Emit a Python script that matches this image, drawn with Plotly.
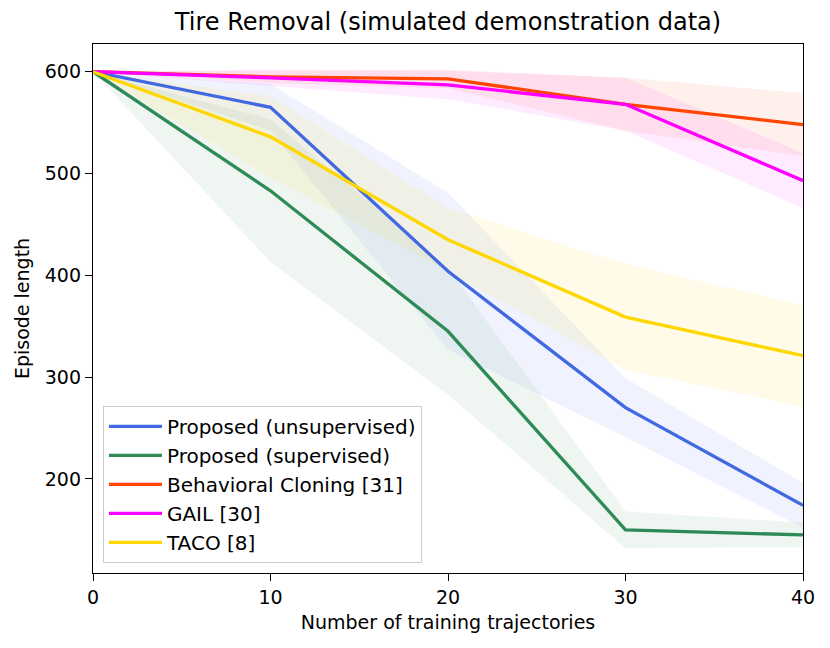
import plotly.graph_objects as go

x_vals = [0, 10, 20, 30, 40]

names = ["Proposed (unsupervised)", "Proposed (supervised)", "Behavioral Cloning [31]", "GAIL [30]", "TACO [8]"]
colors = ["#4169E1", "#2E8B57", "#FF4500", "#FF00FF", "#FFD700"]
fills = ["rgba(65,105,225,0.08)", "rgba(46,139,87,0.08)", "rgba(255,69,0,0.08)", "rgba(255,0,255,0.08)", "rgba(255,215,0,0.09)"]

unsup_mean = [600, 565, 404, 270, 174]
unsup_std = [0, 23, 77, 29, 22]
sup_mean = [600, 483, 345, 150, 145]
sup_std = [0, 70, 62, 18, 12]
bc_mean = [600, 595, 593, 568, 548]
bc_std = [0, 6, 9, 26, 31]
gail_mean = [600, 594, 587, 568, 493]
gail_std = [0, 8, 14, 26, 27]
taco_mean = [600, 536, 435, 359, 321]
taco_std = [0, 40, 31, 52, 50]

means = [unsup_mean, sup_mean, bc_mean, gail_mean, taco_mean]
stds = [unsup_std, sup_std, bc_std, gail_std, taco_std]

fig = go.Figure()
for m, s, fc in zip(means, stds, fills):
    upper = [a + b for a, b in zip(m, s)]
    lower = [a - b for a, b in zip(m, s)]
    fig.add_trace(go.Scatter(
        x=x_vals + x_vals[::-1], y=upper + lower[::-1],
        fill="toself", fillcolor=fc, line=dict(width=0),
        mode="lines", hoverinfo="skip", showlegend=False))

for m, n, c in zip(means, names, colors):
    fig.add_trace(go.Scatter(x=x_vals, y=m, mode="lines", name=n,
                             line=dict(color=c, width=3.3)))

font = "DejaVu Sans"
fig.update_layout(
    width=830, height=648,
    margin=dict(l=93, r=27, t=44, b=75),
    paper_bgcolor="white", plot_bgcolor="white",
    font=dict(family=font, size=19, color="black"),
    title=dict(text="Tire Removal (simulated demonstration data)", x=0.5, xref="paper",
               y=1 - 22 / 648, yref="container", xanchor="center", yanchor="middle",
               font=dict(size=24, family=font, color="black")),
    legend=dict(x=0.014, y=0.019, xanchor="left", yanchor="bottom",
                bgcolor="rgba(255,255,255,0.8)", bordercolor="#cccccc", borderwidth=1,
                font=dict(size=20, family=font), itemwidth=53, tracegroupgap=0),
    showlegend=True,
)
fig.update_xaxes(range=[0, 40], tickvals=[0, 10, 20, 30, 40], showgrid=False, zeroline=False,
                 showline=True, linecolor="black", linewidth=1.3, mirror=True, automargin=False,
                 ticks="outside", ticklen=7, tickwidth=1.3, tickcolor="black",
                 title=dict(text="Number of training trajectories", standoff=8,
                            font=dict(size=19, family=font)))
fig.update_yaxes(range=[107.6, 627.2], tickvals=[200, 300, 400, 500, 600], showgrid=False, zeroline=False,
                 showline=True, linecolor="black", linewidth=1.3, mirror=True, automargin=False,
                 ticks="outside", ticklen=7, tickwidth=1.3, tickcolor="black",
                 title=dict(text="Episode length", standoff=10, font=dict(size=19, family=font)))

fig.write_html("out.html", config={"displayModeBar": False},
               post_script="document.body.style.margin='0';")
